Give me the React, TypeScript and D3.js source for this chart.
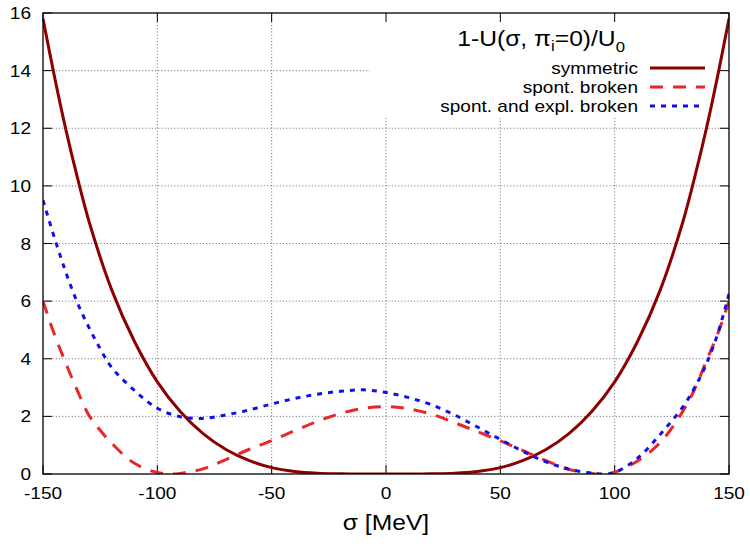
import React from "react";
import * as d3 from "d3";

const xTicks = [-150, -100, -50, 0, 50, 100, 150];
const yTicks = [0, 2, 4, 6, 8, 10, 12, 14, 16];

const symSigma = [-150, -145, -140, -135, -130, -120, -110, -100, -90, -80, -70, -60, -50, -40, -30, -20, -10, 0, 10, 20, 30, 40, 50, 60, 70, 80, 90, 100, 110, 120, 130, 135, 140, 145, 150];
const symU = [15.8, 13.8, 11.95, 10.3, 8.8, 6.4, 4.6, 3.2, 2.17, 1.4, 0.85, 0.47, 0.22, 0.09, 0.03, 0.01, 0.0, 0.0, 0.0, 0.01, 0.03, 0.09, 0.22, 0.47, 0.85, 1.4, 2.17, 3.2, 4.6, 6.4, 8.8, 10.3, 11.95, 13.8, 15.8];

const brokenSigma = [-150, -145, -140, -135, -130, -125, -120, -110, -100, -93, -90, -80, -70, -60, -50, -40, -30, -20, -10, 0, 10, 20, 30, 40, 50, 60, 70, 80, 90, 95, 100, 110, 120, 130, 135, 140, 145, 150];
const brokenU = [6.0, 4.84, 3.84, 2.9, 2.05, 1.52, 1.07, 0.37, 0.05, 0.0, 0.02, 0.18, 0.5, 0.85, 1.16, 1.5, 1.83, 2.1, 2.28, 2.34, 2.26, 2.07, 1.78, 1.47, 1.15, 0.81, 0.46, 0.16, 0.02, 0.0, 0.06, 0.45, 1.1, 2.2, 2.95, 3.9, 4.85, 6.0];

const explSigma = [-150, -145, -140, -135, -130, -125, -120, -110, -100, -90, -80, -70, -60, -50, -40, -30, -20, -10, 0, 10, 20, 30, 40, 50, 60, 70, 80, 90, 95, 100, 110, 120, 130, 135, 140, 145, 150];
const explU = [9.5, 8.2, 7.0, 5.95, 5.1, 4.35, 3.7, 2.9, 2.28, 1.99, 1.93, 2.05, 2.22, 2.43, 2.62, 2.77, 2.87, 2.92, 2.83, 2.65, 2.4, 2.05, 1.63, 1.2, 0.78, 0.42, 0.17, 0.03, 0.0, 0.05, 0.55, 1.38, 2.35, 3.0, 3.8, 4.85, 6.25];

const seriesNames = ["symmetric", "spont. broken", "spont. and expl. broken"];

const W = 750, H = 544;
const L = 43, R = 729, T = 13, B = 474;
const SX = 1.12;

function SText({ x, y, size, anchor, children }: any) {
  return (
    <text
      transform={`translate(${x},${y}) scale(${SX},1)`}
      fontSize={size}
      textAnchor={anchor}
      fontFamily="'Liberation Sans', Arial, Helvetica, sans-serif"
      fill="#000"
    >
      {children}
    </text>
  );
}

export default function App() {
  const x = d3.scaleLinear().domain([-150, 150]).range([L, R]);
  const y = d3.scaleLinear().domain([0, 16]).range([B, T]);
  const line = d3
    .line<[number, number]>()
    .x((d) => x(d[0]))
    .y((d) => y(d[1]))
    .curve(d3.curveCatmullRom.alpha(0.5));

  const symPath = line(symSigma.map((s, i) => [s, symU[i]]))!;
  const brokenPath = line(brokenSigma.map((s, i) => [s, brokenU[i]]))!;
  const explPath = line(explSigma.map((s, i) => [s, explU[i]]))!;

  const gridStyle = { stroke: "#444", strokeWidth: 0.8, strokeDasharray: "1,2.2" };
  const tick = 9;

  const legY = [68, 87, 106];
  const styles = [
    { stroke: "#8b0000", dash: undefined as any },
    { stroke: "#ea2626", dash: "13,10" },
    { stroke: "#1010ee", dash: "5,6" },
  ];

  return (
    <svg width={W} height={H} style={{ position: "absolute", left: 0, top: 0, background: "#fff" }}>
      <rect x={0} y={0} width={W} height={H} fill="#fff" />
      <defs>
        <clipPath id="plotclip">
          <rect x={L} y={T} width={R - L} height={B - T} />
        </clipPath>
      </defs>
      {/* grid */}
      {yTicks.slice(1, -1).map((v) => (
        <line key={"gy" + v} x1={L} x2={R} y1={y(v)} y2={y(v)} style={gridStyle} />
      ))}
      {xTicks.slice(1, -1).map((v) => (
        <line key={"gx" + v} x1={x(v)} x2={x(v)} y1={B} y2={T} style={gridStyle} />
      ))}
      {/* legend blank area */}
      <rect x={370} y={T + 1} width={R - 370 - 1} height={118 - T - 1} fill="#fff" />
      {/* ticks */}
      {yTicks.map((v) => (
        <g key={"ty" + v}>
          <line x1={L} x2={L + tick} y1={y(v)} y2={y(v)} stroke="#000" strokeWidth={1} />
          <line x1={R} x2={R - tick} y1={y(v)} y2={y(v)} stroke="#000" strokeWidth={1} />
          <SText x={31} y={y(v) + 6} size={17} anchor="end">{String(v)}</SText>
        </g>
      ))}
      {xTicks.map((v) => (
        <g key={"tx" + v}>
          <line x1={x(v)} x2={x(v)} y1={B} y2={B - tick} stroke="#000" strokeWidth={1} />
          <line x1={x(v)} x2={x(v)} y1={T} y2={T + tick} stroke="#000" strokeWidth={1} />
          <SText x={x(v)} y={499} size={17} anchor="middle">{String(v)}</SText>
        </g>
      ))}
      {/* curves */}
      <g clipPath="url(#plotclip)" fill="none" strokeWidth={3}>
        <path d={symPath} stroke={styles[0].stroke} />
        <path d={brokenPath} stroke={styles[1].stroke} strokeDasharray={styles[1].dash} />
        <path d={explPath} stroke={styles[2].stroke} strokeDasharray={styles[2].dash} />
      </g>
      {/* border */}
      <rect x={L} y={T} width={R - L} height={B - T} fill="none" stroke="#000" strokeWidth={1.3} />
      {/* title */}
      <text
        transform={`translate(625,46) scale(${SX},1)`}
        fontSize={22}
        textAnchor="end"
        fontFamily="'Liberation Sans', Arial, Helvetica, sans-serif"
      >
        1-U(σ, π<tspan fontSize={15} dy={5}>i</tspan>
        <tspan dy={-5}>=0)/U</tspan>
        <tspan fontSize={15} dy={6}>0</tspan>
      </text>
      {/* legend */}
      {seriesNames.map((n, i) => (
        <g key={n}>
          <SText x={638} y={legY[i] + 6} size={17} anchor="end">{n}</SText>
          <line
            x1={650}
            x2={705}
            y1={legY[i]}
            y2={legY[i]}
            stroke={styles[i].stroke}
            strokeWidth={3}
            strokeDasharray={styles[i].dash}
          />
        </g>
      ))}
      {/* axis title */}
      <SText x={386} y={530} size={22} anchor="middle">σ [MeV]</SText>
    </svg>
  );
}
